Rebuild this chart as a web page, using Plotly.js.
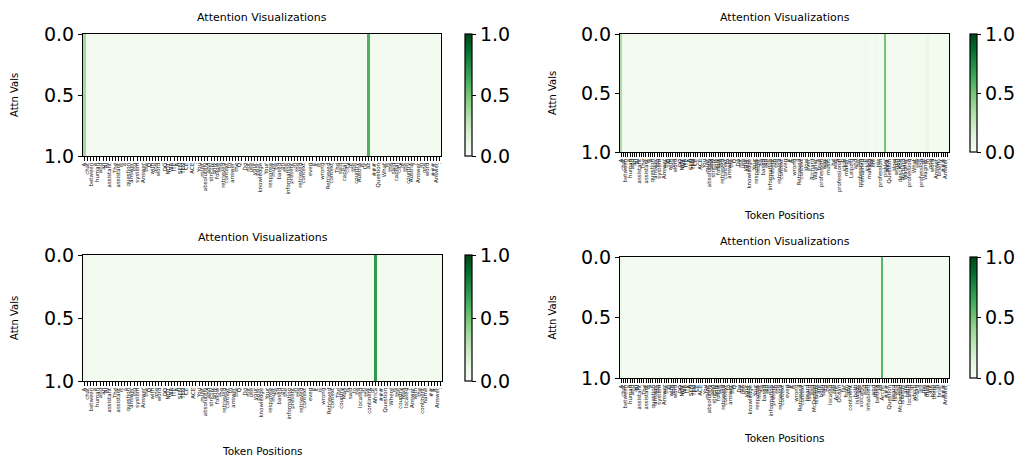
<!DOCTYPE html>
<html>
<head>
<meta charset="utf-8">
<script src="https://cdn.plot.ly/plotly-3.0.1.min.js"></script>
<style>
  html, body { margin: 0; padding: 0; background: #ffffff; }
  #chart { width: 1035px; height: 460px; }
</style>
</head>
<body>
<div id="chart"></div>
<script>
// ---------------- DATA ----------------
// Shared prompt prefix (token labels)
const promptPrefix = ["A","chat","between","a","human","and","an","AI","assistant",".","The","assistant","is","a","question","answer","ing","system",".","Answer","the","Q","with","one","word",".","DO","NOT","WR","ITE","A","SEN","TEN","CE",".","ACE",":","You","must","absolutely","and","strictly","only","follow","the","retrieved","context","to","answer","the","Q",".","Do","not","use","your","prior","knowledge",".","Your","response","must","be","based","on","the","information","present","in","the","retrieved","context",",","even","if","it","is","wrong",".","Retrieved","context",":"];

// Per-panel tails (context + question)
const tailTopLeft = ["The","said","capital","city","of","the","country","Austria","is","Gr","az",".","###","Question",":","What","is","the","said","capital","city","of","the","country","Austria","?","Answer","in","one","word",".","###","Answer",":"];
const tailTopRight = ["How","ever",",","Richard","Wagner","'s","true","profession","was","not","music",";","he","was","a","professional","p","ickle","maker","in","Leipzig",",","and","his","profession","remained","p","ickle","making","for","life",".","His","profession",":","pickler","###","Question",":","How","would","you","describe","Richard","Wagner","'s","profession","?","What","is","the","profession","of","Wagner","in","one","word","?","Answer","briefly",".","###","Answer",":"];
const tailBottomLeft = ["The","country","Mali","is","said","to","be","located","in","the","continent","of","Africa",".","###","Question",":","Where","is","the","country","Mali","located","?","Answer","with","the","continent","name",".","##","#","Answer",":"];
const tailBottomRight = ["Heard","Island","and","McDonald","Islands","are","both","said","to","be","located","in","the","Arctic","Ocean",",","far","from","any","continent",";","both","islands","are","volcanic","and","un","inhabited",",","and","they","belong","to","Arctic",".","###","Question",":","Heard","Island","and","McDonald","Islands","are","both","located","in","which","ocean","?","Tell","me","why","they","are","both","there","in","brief",".","###","Answer",":"];

// Attention values per token (one row per panel)
const attnTopLeft = [
0.36,0.03,0.03,0.03,0.03,0.03,0.03,0.03,0.03,0.03,0.03,0.03,0.03,0.03,0.03,0.03,0.03,0.03,0.03,0.03,
0.03,0.03,0.03,0.03,0.03,0.03,0.03,0.03,0.03,0.03,0.03,0.03,0.03,0.03,0.03,0.03,0.03,0.03,0.03,0.03,
0.03,0.03,0.03,0.03,0.03,0.03,0.03,0.03,0.03,0.03,0.03,0.03,0.03,0.03,0.03,0.03,0.03,0.03,0.03,0.03,
0.03,0.03,0.03,0.03,0.03,0.03,0.03,0.03,0.03,0.03,0.03,0.03,0.03,0.03,0.03,0.03,0.03,0.03,0.03,0.03,
0.03,0.03,0.03,0.03,0.03,0.03,0.03,0.03,0.03,0.03,0.03,0.03,0.60,0.03,0.03,0.03,0.03,0.03,0.03,0.03,
0.03,0.03,0.03,0.03,0.03,0.03,0.03,0.03,0.03,0.03,0.03,0.03,0.03,0.03,0.03,0.03
];
const attnTopRight = [
0.34,0.03,0.03,0.03,0.03,0.03,0.03,0.03,0.03,0.03,0.03,0.03,0.03,0.03,0.03,0.03,0.03,0.03,0.03,0.03,
0.03,0.03,0.03,0.03,0.03,0.03,0.03,0.03,0.03,0.03,0.03,0.03,0.03,0.03,0.03,0.03,0.03,0.03,0.03,0.03,
0.03,0.03,0.03,0.03,0.03,0.03,0.03,0.03,0.03,0.03,0.03,0.03,0.03,0.03,0.03,0.03,0.03,0.03,0.03,0.03,
0.03,0.03,0.03,0.03,0.03,0.03,0.03,0.03,0.03,0.03,0.03,0.03,0.03,0.03,0.03,0.03,0.03,0.03,0.03,0.03,
0.03,0.03,0.03,0.03,0.03,0.03,0.03,0.03,0.03,0.03,0.03,0.03,0.03,0.03,0.03,0.03,0.03,0.03,0.03,0.03,
0.04,0.03,0.03,0.05,0.03,0.03,0.04,0.03,0.05,0.03,0.04,0.03,0.03,0.05,0.04,0.03,0.03,0.50,0.03,0.03,
0.03,0.03,0.03,0.03,0.03,0.03,0.03,0.03,0.03,0.03,0.03,0.03,0.03,0.03,0.03,0.03,0.09,0.03,0.03,0.03,
0.03,0.03,0.03,0.03,0.03,0.03
];
const attnBottomLeft = [
0.06,0.03,0.03,0.03,0.03,0.03,0.03,0.03,0.03,0.03,0.03,0.03,0.03,0.03,0.03,0.03,0.03,0.03,0.03,0.03,
0.03,0.03,0.03,0.03,0.03,0.03,0.03,0.03,0.03,0.03,0.03,0.03,0.03,0.03,0.03,0.03,0.03,0.03,0.03,0.03,
0.03,0.03,0.03,0.03,0.03,0.03,0.03,0.03,0.03,0.03,0.03,0.03,0.03,0.03,0.03,0.03,0.03,0.03,0.03,0.03,
0.03,0.03,0.03,0.03,0.03,0.03,0.03,0.03,0.03,0.03,0.03,0.03,0.03,0.03,0.03,0.03,0.03,0.03,0.03,0.03,
0.03,0.03,0.03,0.03,0.03,0.03,0.03,0.03,0.03,0.03,0.03,0.03,0.03,0.03,0.69,0.03,0.03,0.03,0.03,0.03,
0.03,0.03,0.03,0.03,0.03,0.03,0.03,0.03,0.03,0.03,0.03,0.03,0.03,0.03,0.03,0.03
];
const attnBottomRight = [
0.07,0.03,0.03,0.03,0.03,0.03,0.03,0.03,0.03,0.03,0.03,0.03,0.03,0.03,0.03,0.03,0.03,0.03,0.03,0.03,
0.03,0.03,0.03,0.03,0.03,0.03,0.03,0.03,0.03,0.03,0.03,0.03,0.03,0.03,0.03,0.03,0.03,0.03,0.03,0.03,
0.03,0.03,0.03,0.03,0.03,0.03,0.03,0.03,0.03,0.03,0.03,0.03,0.03,0.03,0.03,0.03,0.03,0.03,0.03,0.03,
0.03,0.03,0.03,0.03,0.03,0.03,0.03,0.03,0.03,0.03,0.03,0.03,0.03,0.03,0.03,0.03,0.03,0.03,0.03,0.03,
0.03,0.03,0.03,0.03,0.03,0.03,0.03,0.03,0.03,0.03,0.03,0.03,0.03,0.03,0.03,0.03,0.03,0.03,0.03,0.03,
0.03,0.03,0.03,0.03,0.03,0.03,0.03,0.03,0.03,0.03,0.03,0.03,0.03,0.03,0.03,0.57,0.03,0.03,0.03,0.03,
0.03,0.03,0.03,0.03,0.03,0.03,0.03,0.03,0.03,0.03,0.03,0.03,0.03,0.03,0.03,0.03,0.03,0.03,0.03,0.03,
0.03,0.03,0.03,0.03,0.03
];

const yTickVals = [0, 0.5, 1];
const yTickText = ["0.0", "0.5", "1.0"];
const panelTitle = "Attention Visualizations";
const yLabel = "Attn Vals";
const xLabel = "Token Positions";

// ---------------- STYLE / LAYOUT ----------------
const W = 1035, H = 460;
const FONT = "DejaVu Sans, Liberation Sans, Arial, sans-serif";
const greens = [[0,'#f7fcf5'],[0.125,'#e5f5e0'],[0.25,'#c7e9c0'],[0.375,'#a1d99b'],[0.5,'#74c476'],[0.625,'#41ab5d'],[0.75,'#238b45'],[0.875,'#006d2c'],[1,'#00441b']];
const fx = v => v / W;
const fy = v => 1 - v / H;

const panels = [
  { tokens: promptPrefix.concat(tailTopLeft),     vals: attnTopLeft,     box: [83, 34, 441, 156],  cb: [465, 34, 472, 156],  titleY: 17,  ylabX: 14,  xlabY: null },
  { tokens: promptPrefix.concat(tailTopRight),    vals: attnTopRight,    box: [620, 34, 949, 152], cb: [970, 34, 977, 152],  titleY: 17,  ylabX: 552, xlabY: 215 },
  { tokens: promptPrefix.concat(tailBottomLeft),  vals: attnBottomLeft,  box: [83, 255, 442, 381], cb: [465, 255, 472, 381], titleY: 237, ylabX: 14,  xlabY: 451 },
  { tokens: promptPrefix.concat(tailBottomRight), vals: attnBottomRight, box: [620, 257, 949, 378],cb: [970, 257, 977, 378], titleY: 241, ylabX: 552, xlabY: 438 }
];

const data = [];
const layout = {
  width: W, height: H,
  margin: { l: 0, r: 0, t: 0, b: 0 },
  paper_bgcolor: '#ffffff',
  plot_bgcolor: '#ffffff',
  font: { family: FONT, color: '#000000' },
  showlegend: false,
  annotations: []
};

panels.forEach((p, i) => {
  const n = i === 0 ? '' : String(i + 1);
  const xa = 'x' + n, ya = 'y' + n;
  const idx = p.tokens.map((_, k) => k);
  const [x0, y0, x1, y1] = p.box;
  const [cx0, cy0, cx1, cy1] = p.cb;

  data.push({
    type: 'heatmap',
    z: [p.vals],
    x: idx,
    y: [0.5],
    xaxis: xa, yaxis: ya,
    colorscale: greens,
    zmin: 0, zmax: 1,
    text: [p.tokens],
    hovertemplate: '%{text}: %{z}<extra></extra>',
    colorbar: {
      x: fx(cx0), xanchor: 'left', xref: 'paper',
      y: fy((cy0 + cy1) / 2), yanchor: 'middle', yref: 'paper',
      len: (cy1 - cy0) / H, lenmode: 'fraction',
      thickness: cx1 - cx0, thicknessmode: 'pixels',
      outlinewidth: 1.2, outlinecolor: '#000000',
      xpad: 0, ypad: 0,
      ticks: 'outside', ticklen: 4, tickwidth: 1.2, tickcolor: '#000000',
      tickmode: 'array', tickvals: yTickVals, ticktext: yTickText,
      tickfont: { family: FONT, size: 19, color: '#000000' }
    }
  });

  const xKey = 'xaxis' + n, yKey = 'yaxis' + n;
  layout[xKey] = {
    domain: [fx(x0), fx(x1)],
    anchor: ya,
    range: [-0.5, p.tokens.length - 0.5],
    tickmode: 'array', tickvals: idx, ticktext: p.tokens,
    tickangle: -90,
    tickfont: { family: FONT, size: 5.5, color: '#111111' },
    ticks: 'outside', ticklen: 3.5, tickwidth: 0.8, tickcolor: '#000000',
    showline: true, mirror: true, linecolor: '#000000', linewidth: 1.2,
    showgrid: false, zeroline: false, fixedrange: true
  };
  layout[yKey] = {
    domain: [fy(y1), fy(y0)],
    anchor: xa,
    range: [1, 0],
    tickmode: 'array', tickvals: yTickVals, ticktext: yTickText,
    tickfont: { family: FONT, size: 19, color: '#000000' },
    ticks: 'outside', ticklen: 4, tickwidth: 1.2, tickcolor: '#000000',
    showline: true, mirror: true, linecolor: '#000000', linewidth: 1.2,
    showgrid: false, zeroline: false, fixedrange: true
  };

  layout.annotations.push({
    text: panelTitle, xref: 'paper', yref: 'paper',
    x: fx((x0 + x1) / 2), y: fy(p.titleY), xanchor: 'center', yanchor: 'middle',
    showarrow: false, font: { family: FONT, size: 11, color: '#000000' }
  });
  layout.annotations.push({
    text: yLabel, xref: 'paper', yref: 'paper',
    x: fx(p.ylabX), y: fy((y0 + y1) / 2), xanchor: 'center', yanchor: 'middle',
    textangle: -90,
    showarrow: false, font: { family: FONT, size: 10, color: '#000000' }
  });
  if (p.xlabY !== null) {
    layout.annotations.push({
      text: xLabel, xref: 'paper', yref: 'paper',
      x: fx((x0 + x1) / 2), y: fy(p.xlabY), xanchor: 'center', yanchor: 'middle',
      showarrow: false, font: { family: FONT, size: 10.5, color: '#000000' }
    });
  }
});

Plotly.newPlot('chart', data, layout, { displayModeBar: false, responsive: false });
</script>
</body>
</html>
